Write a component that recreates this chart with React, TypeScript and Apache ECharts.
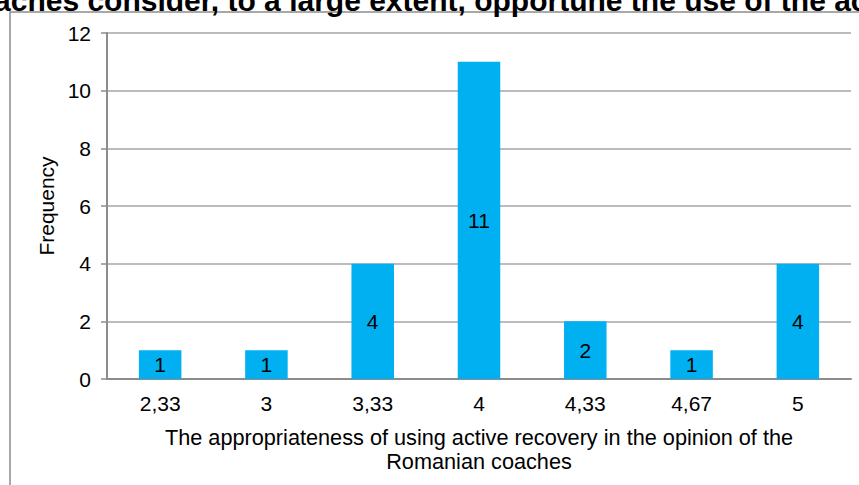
import React, { useEffect, useRef } from "react";
import * as echarts from "echarts";

// Survey scores (x categories) and how many coaches gave each score
const categories = ["2,33", "3", "3,33", "4", "4,33", "4,67", "5"];
const frequency = [1, 1, 4, 11, 2, 1, 4];
const yTicks = { min: 0, max: 12, interval: 2 };

const titleText =
  "coaches consider, to a large extent, opportune the use of the active recovery";
const xAxisTitle =
  "The appropriateness of using active recovery in the opinion of the\nRomanian coaches";
const yAxisTitle = "Frequency";

const FONT = "'Liberation Sans', Arial, sans-serif";
const FS = 21;

export default function App() {
  const ref = useRef<HTMLDivElement>(null);

  useEffect(() => {
    if (!ref.current) return;
    const chart = echarts.init(ref.current, null, { renderer: "svg" });
    chart.setOption({
      animation: false,
      backgroundColor: "#ffffff",
      textStyle: { fontFamily: FONT },
      grid: { left: 107, right: 8, top: 33, bottom: 106, containLabel: false },
      graphic: [
        {
          type: "polyline",
          shape: { points: [[10, 485], [10, 12], [859, 12]] },
          style: { stroke: "#8c8c8c", lineWidth: 1.5, fill: "none" },
        },
        {
          type: "text",
          x: -41,
          y: 15,
          style: {
            text: titleText,
            fontSize: 30,
            fontWeight: "bold",
            fontFamily: FONT,
            fill: "#000000",
            align: "left",
            verticalAlign: "bottom",
          },
        },
        {
          type: "text",
          x: 46,
          y: 206,
          rotation: Math.PI / 2,
          style: {
            text: yAxisTitle,
            fontSize: FS,
            fontFamily: FONT,
            fill: "#000000",
            align: "center",
            verticalAlign: "middle",
          },
        },
      ],
      xAxis: {
        type: "category",
        data: categories,
        name: xAxisTitle,
        nameLocation: "middle",
        nameGap: 46,
        nameTextStyle: {
          fontSize: 21.7,
          color: "#000000",
          fontFamily: FONT,
          lineHeight: 24,
          align: "center",
        },
        axisLine: { show: true, lineStyle: { color: "#8c8c8c", width: 2 } },
        axisTick: { show: false },
        axisLabel: { fontSize: FS, color: "#000000", margin: 14, fontFamily: FONT },
      },
      yAxis: {
        type: "value",
        min: yTicks.min,
        max: yTicks.max,
        interval: yTicks.interval,
        axisLine: { show: true, lineStyle: { color: "#8c8c8c", width: 2 } },
        axisTick: { show: true, length: 6, lineStyle: { color: "#8c8c8c", width: 1.5 } },
        axisLabel: { fontSize: FS, color: "#000000", margin: 16, fontFamily: FONT },
        splitLine: { show: true, lineStyle: { color: "#a6a6a6", width: 1.5 } },
      },
      series: [
        {
          type: "bar",
          data: frequency,
          barWidth: "40%",
          itemStyle: { color: "#00b0f0" },
          label: {
            show: true,
            position: "inside",
            fontSize: FS,
            color: "#000000",
            fontFamily: FONT,
          },
        },
      ],
    });
    return () => chart.dispose();
  }, []);

  return (
    <div
      ref={ref}
      style={{ position: "absolute", left: 0, top: 0, width: 859, height: 485 }}
    />
  );
}
